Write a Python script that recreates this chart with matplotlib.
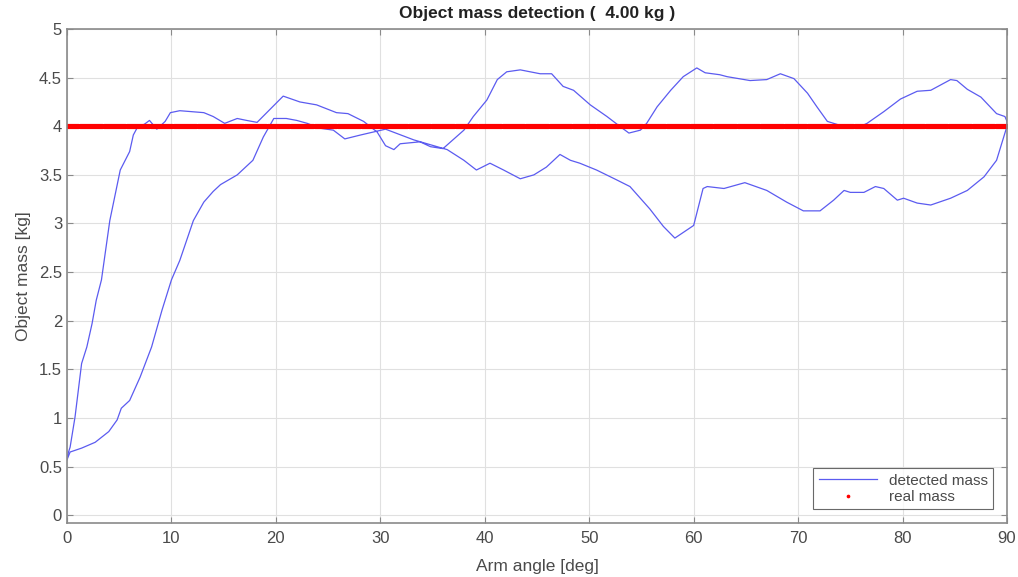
import numpy as np
import matplotlib
matplotlib.use("Agg")
import matplotlib.pyplot as plt

plt.rcParams['font.family'] = ['Liberation Sans', 'DejaVu Sans']

# Detected mass while the arm moves up (0 -> 90 deg)
angle_up = [0.0, 0.3, 0.77, 1.4, 1.9, 2.4, 2.8, 3.3, 4.1, 5.1, 6.0, 6.35, 6.8, 7.4,
            7.9, 8.6, 9.4, 9.9, 10.8, 13.1, 14.0, 15.1, 16.3, 17.2, 18.2, 19.4, 20.7,
            22.3, 23.9, 25.8, 26.9, 28.4, 29.7, 30.5, 31.3, 31.9, 33.8, 34.8, 36.0,
            38.0, 38.9, 40.2, 41.2, 42.1, 43.4, 45.3, 46.4, 47.5, 48.5, 50.1, 51.7,
            52.8, 53.8, 54.9, 55.5, 56.5, 57.8, 59.0, 60.3, 61.1, 62.5, 63.2, 65.4,
            67.0, 68.3, 69.6, 70.9, 71.8, 72.8, 74.0, 75.3, 76.0, 76.6, 78.2, 79.8,
            81.4, 82.7, 84.6, 85.2, 86.2, 87.5, 89.0, 89.8, 90.0]
mass_up = [0.60, 0.70, 1.01, 1.56, 1.73, 1.97, 2.21, 2.42, 3.03, 3.55, 3.74, 3.91, 4.00, 4.02,
           4.06, 3.97, 4.05, 4.14, 4.16, 4.14, 4.10, 4.03, 4.08, 4.06, 4.04, 4.17, 4.31,
           4.25, 4.22, 4.14, 4.13, 4.05, 3.94, 3.80, 3.76, 3.82, 3.84, 3.79, 3.77,
           3.96, 4.10, 4.27, 4.48, 4.56, 4.58, 4.54, 4.54, 4.41, 4.37, 4.22, 4.10,
           4.01, 3.93, 3.96, 4.03, 4.20, 4.37, 4.51, 4.60, 4.55, 4.53, 4.51, 4.47,
           4.48, 4.54, 4.49, 4.34, 4.20, 4.05, 4.01, 3.98, 4.00, 4.03, 4.15, 4.28,
           4.36, 4.37, 4.48, 4.47, 4.38, 4.30, 4.13, 4.10, 4.05]

# Detected mass while the arm moves back down (90 -> 0 deg)
angle_down = [90.0, 89.0, 87.8, 86.2, 84.6, 82.7, 81.4, 80.1, 79.5, 78.2, 77.4, 76.3,
              75.0, 74.4, 73.4, 72.1, 70.5, 68.9, 67.0, 64.9, 62.9, 61.3, 60.9, 60.0,
              58.2, 57.1, 55.8, 53.9, 52.6, 50.7, 49.1, 48.2, 47.2, 45.9, 44.7, 43.4,
              41.8, 40.5, 39.2, 38.0, 36.4, 34.8, 33.2, 30.5, 29.3, 28.1, 26.6, 25.5,
              24.2, 23.0, 22.0, 21.0, 19.8, 18.8, 17.8, 16.3, 14.7, 14.0, 13.1, 12.1,
              10.8, 10.0, 9.1, 8.1, 7.0, 6.0, 5.2, 4.8, 4.0, 2.7, 1.4, 0.3, 0.0]
mass_down = [4.00, 3.65, 3.48, 3.34, 3.26, 3.19, 3.21, 3.26, 3.24, 3.36, 3.38, 3.32,
             3.32, 3.34, 3.24, 3.13, 3.13, 3.22, 3.34, 3.42, 3.36, 3.38, 3.36, 2.98,
             2.85, 2.97, 3.15, 3.38, 3.45, 3.55, 3.62, 3.65, 3.71, 3.58, 3.50, 3.46,
             3.55, 3.62, 3.55, 3.65, 3.76, 3.81, 3.86, 3.97, 3.94, 3.91, 3.87, 3.96,
             3.98, 4.03, 4.06, 4.08, 4.08, 3.89, 3.65, 3.50, 3.40, 3.33, 3.22, 3.03,
             2.62, 2.42, 2.11, 1.73, 1.42, 1.18, 1.10, 0.98, 0.86, 0.75, 0.69, 0.65, 0.57]

real_mass = 4.00

angle = np.array(angle_up + angle_down)
mass = np.array(mass_up + mass_down)

# real mass is logged at every sample of the sweep
sample_angle = np.linspace(0, 90, 901)

fig = plt.figure(figsize=(10.18, 5.77), dpi=100)
ax = fig.add_axes([0.0658, 0.0936, 0.9234, 0.8561])

ax.plot(angle, mass, color='#5b5bf0', lw=0.9, label='detected mass')
ax.plot(sample_angle, np.full(sample_angle.shape, real_mass), '.', color='#ff0000',
        markersize=5.5, label='real mass')

ax.set_xlim(0, 90)
ax.set_ylim(-0.08, 5)
ax.set_xticks(np.arange(0, 91, 10))
ax.set_yticks(np.arange(0, 5.01, 0.5))
ax.set_yticklabels(['0', '0.5', '1', '1.5', '2', '2.5', '3', '3.5', '4', '4.5', '5'])

ax.grid(True, color='#e0e0e0', lw=0.8)
ax.set_axisbelow(True)
for s in ax.spines.values():
    s.set_color('#8a8a8a')
    s.set_linewidth(1.2)
ax.tick_params(direction='in', length=4, width=0.8, color='#8a8a8a',
               labelsize=12, labelcolor='#4a4a4a', top=True, right=True)
ax.tick_params(axis='x', pad=6)

ax.set_title('Object mass detection (  4.00 kg )', fontsize=12.5, fontweight='bold',
             color='#222222', pad=8)
ax.set_xlabel('Arm angle [deg]', fontsize=12.5, color='#4a4a4a', labelpad=9)
ax.set_ylabel('Object mass [kg]', fontsize=12.5, color='#4a4a4a', labelpad=6)

leg = ax.legend(loc='lower right', fontsize=11, frameon=True, fancybox=False,
                borderaxespad=0.9, handlelength=3.8, labelspacing=0.15,
                markerscale=0.6, borderpad=0.35)
leg.get_frame().set_edgecolor('#444444')
leg.get_frame().set_linewidth(0.8)
for t in leg.get_texts():
    t.set_color('#4a4a4a')

fig.savefig('out.png', dpi=100)
